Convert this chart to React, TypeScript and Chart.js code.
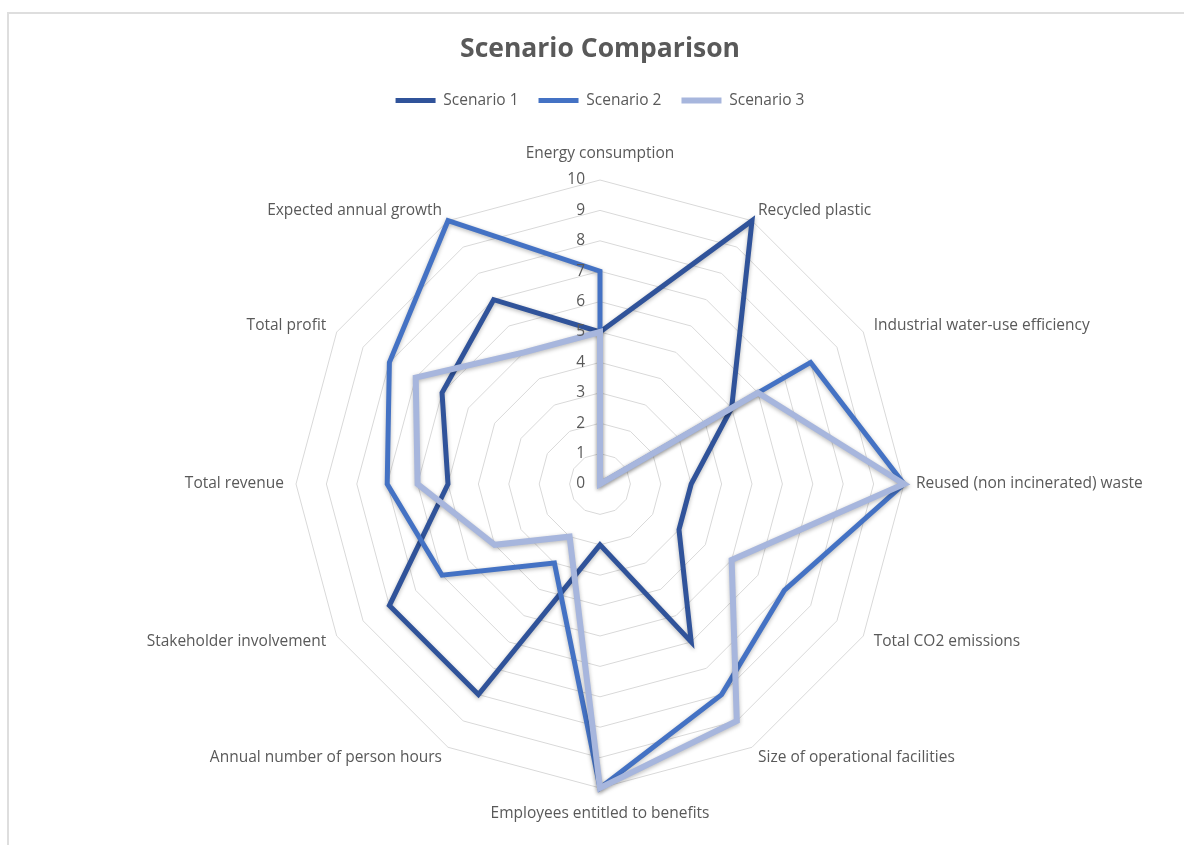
import React, { useEffect, useRef } from 'react';
import { Chart, registerables } from 'chart.js';

Chart.register(...registerables);

const chartTitle = 'Scenario Comparison';
const categories = [
  'Energy consumption',
  'Recycled plastic',
  'Industrial water-use efficiency',
  'Reused (non incinerated) waste',
  'Total CO2 emissions',
  'Size of operational facilities',
  'Employees entitled to benefits',
  'Annual number of person hours',
  'Stakeholder involvement',
  'Total revenue',
  'Total profit',
  'Expected annual growth',
];
const seriesNames = ['Scenario 1', 'Scenario 2', 'Scenario 3'];
const scenario1 = [5, 10, 5, 3, 3, 6, 2, 8, 8, 5, 6, 7];
const scenario2 = [7, 0, 8, 10, 7, 8, 10, 3, 6, 7, 8, 10];
const scenario3 = [5, 0, 6, 10, 5, 9, 10, 2, 4, 6, 7, 5];
const tickMin = 0;
const tickMax = 10;
const tickStep = 1;

const seriesColors = ['#30539A', '#4472C4', '#A7B6DD'];
const seriesWidths = [5, 5, 6];
const TEXT = '#595959';
const FONT = '"Open Sans", Lato, sans-serif';

const shadowPlugin = {
  id: 'lineShadow',
  beforeDatasetDraw(chart: any) {
    const ctx = chart.ctx;
    ctx.save();
    ctx.shadowColor = 'rgba(0,0,0,0.28)';
    ctx.shadowBlur = 4;
    ctx.shadowOffsetX = 0;
    ctx.shadowOffsetY = 1.5;
  },
  afterDatasetDraw(chart: any) {
    chart.ctx.restore();
  },
};

const labelPlugin = {
  id: 'radarLabels',
  afterDraw(chart: any) {
    const scale = chart.scales.r;
    const ctx = chart.ctx;
    ctx.save();
    ctx.font = `15.5px ${FONT}`;
    ctx.fillStyle = TEXT;
    ctx.textBaseline = 'middle';
    categories.forEach((label, i) => {
      const deg = Math.round((scale.getIndexAngle(i) * 180) / Math.PI) % 360;
      const vertical = deg === 0 || deg === 180;
      const pos = scale.getPointPosition(i, scale.drawingArea + (vertical ? 26 : 12));
      ctx.textAlign = vertical ? 'center' : deg < 180 ? 'left' : 'right';
      ctx.fillText(label, pos.x, pos.y);
    });
    ctx.textAlign = 'right';
    scale.ticks.forEach((t: any) => {
      const d = scale.getDistanceFromCenterForValue(t.value);
      ctx.fillText(String(t.value), scale.xCenter - 15, scale.yCenter - d);
    });
    ctx.restore();
  },
};

export default function App() {
  const canvasRef = useRef<HTMLCanvasElement | null>(null);

  useEffect(() => {
    if (!canvasRef.current) return;
    const data = [scenario1, scenario2, scenario3];
    const chart = new Chart(canvasRef.current, {
      type: 'radar',
      data: {
        labels: categories,
        datasets: seriesNames.map((name, i) => ({
          label: name,
          data: data[i],
          borderColor: seriesColors[i],
          backgroundColor: seriesColors[i],
          borderWidth: seriesWidths[i],
          borderCapStyle: 'round',
          borderJoinStyle: 'miter',
          fill: false,
          pointRadius: 0,
          pointHoverRadius: 0,
          tension: 0,
          order: 2 - i,
        })),
      },
      options: {
        responsive: true,
        maintainAspectRatio: false,
        animation: false,
        layout: { padding: { left: 16, right: 0, top: 0, bottom: 56 } },
        plugins: {
          title: {
            display: true,
            text: chartTitle,
            color: TEXT,
            font: { family: FONT, size: 26.5, weight: 'bold' },
            padding: { top: 34, bottom: 7 },
          },
          legend: {
            display: true,
            position: 'top',
            labels: {
              usePointStyle: true,
              pointStyle: 'line',
              pointStyleWidth: 40,
              color: TEXT,
              font: { family: FONT, size: 15.5 },
              padding: 20,
              sort: (a: any, b: any) => a.datasetIndex - b.datasetIndex,
            },
          },
          subtitle: {
            display: true,
            text: ' ',
            position: 'top',
            weight: 500,
            font: { size: 10 },
            padding: { top: 25, bottom: 24 },
          },
          tooltip: { enabled: false },
        },
        scales: {
          r: {
            min: tickMin,
            max: tickMax,
            ticks: { stepSize: tickStep, display: false },
            grid: { color: '#d9d9d9', lineWidth: 1 },
            angleLines: { display: false },
            pointLabels: { display: false },
          },
        },
      },
      plugins: [shadowPlugin, labelPlugin],
    } as any);
    return () => chart.destroy();
  }, []);

  return (
    <div>
      <div
        style={{
          position: 'absolute',
          left: 7,
          top: 12,
          width: 1177,
          height: 833,
          borderLeft: '2px solid #dedede',
          borderTop: '2px solid #dedede',
          boxSizing: 'border-box',
        }}
      />
      <div style={{ position: 'absolute', left: 0, top: 0, width: 1184, height: 845 }}>
        <canvas ref={canvasRef} />
      </div>
    </div>
  );
}
